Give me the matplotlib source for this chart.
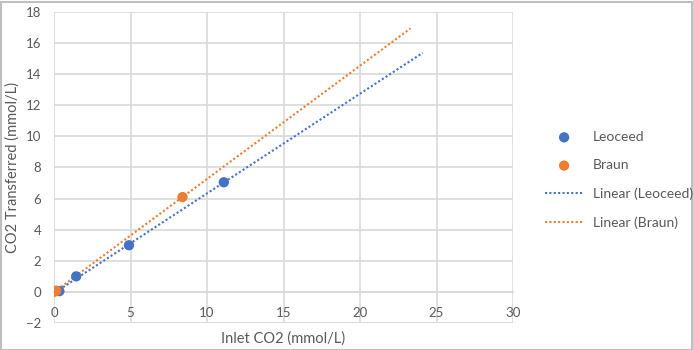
import numpy as np
import matplotlib
matplotlib.use("Agg")
import matplotlib.pyplot as plt
from matplotlib.patches import Rectangle

# Data
leoceed_x = [0.35, 1.45, 4.9, 11.1]
leoceed_y = [0.05, 1.0, 3.0, 7.05]
braun_x = [0.0, 0.15, 8.4]
braun_y = [0.0, 0.08, 6.1]
leoceed_forecast = 13.0
braun_forecast = 14.9

x_ticks = [0, 5, 10, 15, 20, 25, 30]
y_ticks = [-2, 0, 2, 4, 6, 8, 10, 12, 14, 16, 18]

blue = "#4472C4"
orange = "#ED7D31"
grid_c = "#d9d9d9"
text_c = "#595959"
font = ["Lato", "DejaVu Sans"]
plt.rcParams["font.family"] = font

fig = plt.figure(figsize=(6.93, 3.5), dpi=100)
ax = fig.add_axes([54/693, 1-323/350, (513-54)/693, (323-12)/350])

ax.set_xlim(0, 30)
ax.set_ylim(-2, 18)
ax.set_xticks(x_ticks)
ax.set_yticks(y_ticks)
ax.grid(True, color=grid_c, lw=1.2, zorder=0)
ax.set_axisbelow(True)
for s in ["top", "right", "left"]:
    ax.spines[s].set_visible(False)
ax.spines["bottom"].set_position(("data", 0))
ax.spines["bottom"].set_color(grid_c)
ax.spines["bottom"].set_linewidth(1.2)
ax.tick_params(length=0, colors=text_c, labelsize=9.5)
ax.tick_params(axis="x", pad=11)
ax.tick_params(axis="y", pad=9)
# bottom border at -2
ax.axhline(-2, color=grid_c, lw=1.2, zorder=0)

# trendlines
def trend(xs, ys, fwd):
    m, b = np.polyfit(xs, ys, 1)
    xx = np.array([min(xs), max(xs) + fwd])
    return xx, m * xx + b

tx, ty = trend(leoceed_x, leoceed_y, leoceed_forecast)
ax.plot(tx, ty, color=blue, lw=1.5, linestyle=(0, (1, 1.1)), label="Linear (Leoceed)", zorder=2)
tx2, ty2 = trend(braun_x, braun_y, braun_forecast)
ax.plot(tx2, ty2, color=orange, lw=1.5, linestyle=(0, (1, 1.1)), label="Linear (Braun)", zorder=2)

h1 = ax.scatter(leoceed_x, leoceed_y, s=55, color=blue, label="Leoceed", zorder=3, edgecolors="none")
h2 = ax.scatter(braun_x, braun_y, s=55, color=orange, label="Braun", zorder=4, edgecolors="none")

handles, labels = ax.get_legend_handles_labels()
order = [labels.index(l) for l in ["Leoceed", "Braun", "Linear (Leoceed)", "Linear (Braun)"]]
leg = fig.legend([handles[i] for i in order], [labels[i] for i in order],
                 loc="upper left", bbox_to_anchor=(545/693, 1-131/350), frameon=False,
                 borderpad=0, borderaxespad=0,
                 fontsize=10, labelspacing=1.17, handlelength=2.75, handletextpad=0.72)
for t in leg.get_texts():
    t.set_color(text_c)

ax.set_xlabel("Inlet CO2 (mmol/L)", color=text_c, fontsize=10.5)
ax.xaxis.set_label_coords(0.5, -8/311)
ax.set_ylabel("CO2 Transferred (mmol/L)", color=text_c, fontsize=10.5)
ax.yaxis.set_label_coords(-34/459, 0.5)

fig.patches.append(Rectangle((0.5/693, 0.5/350), 1-2/693, 1-2/350, transform=fig.transFigure,
                             fill=False, edgecolor="#bfbfbf", lw=1.5))

fig.savefig("out.png", dpi=100)
